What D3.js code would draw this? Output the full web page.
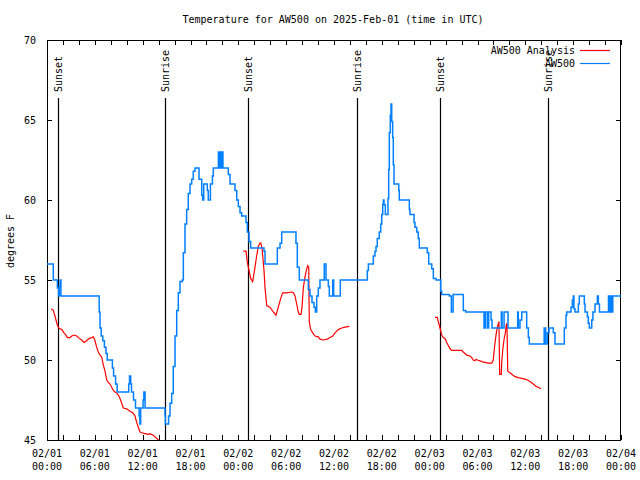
<!DOCTYPE html>
<html><head><meta charset="utf-8">
<script src="https://cdn.jsdelivr.net/npm/d3@7"></script>
<style>body{margin:0;background:#fff}svg{display:block}text{font-family:"DejaVu Sans Mono",monospace;font-size:10px;fill:#000}</style>
</head><body><svg id="c" width="640" height="480"></svg>
<script>
const title = "Temperature for AW500 on 2025-Feb-01 (time in UTC)";
const yLabel = "degrees F";
const yTicks = [45, 50, 55, 60, 65, 70];
const xLabelHours = [0, 6, 12, 18, 24, 30, 36, 42, 48, 54, 60, 66, 72];
const xLabelDates = ["02/01","02/01","02/01","02/01","02/02","02/02","02/02","02/02","02/03","02/03","02/03","02/03","02/04"];
const xLabelTimes = ["00:00","06:00","12:00","18:00","00:00","06:00","12:00","18:00","00:00","06:00","12:00","18:00","00:00"];
const sunHours = [1.42, 14.8, 25.21, 38.89, 49.3, 62.85];
const sunLabels = ["Sunset","Sunrise","Sunset","Sunrise","Sunset","Sunrise"];
const seriesNames = ["AW500 Analysis", "AW500"];

// AW500 observations (hours since 02/01 00:00 UTC, deg F)
const blueHours = [0,0.79,1.3,1.45,1.55,1.65,1.75,6.55,6.65,6.8,7.0,7.2,7.4,7.55,8.2,8.35,8.6,8.8,10.25,10.35,10.5,10.6,10.85,11.1,11.55,11.65,11.75,12.05,12.15,12.3,14.8,14.85,15.05,15.25,15.43,15.64,15.84,16.06,16.27,16.47,16.68,16.97,17.1,17.31,17.52,17.72,17.94,18.15,18.35,18.56,19.07,19.19,19.41,19.53,19.66,20.03,20.11,20.23,20.5,20.75,20.86,21.5,21.58,21.74,21.82,21.99,22.07,22.33,22.74,22.96,23.17,23.58,23.8,24.0,24.21,24.42,24.96,25.13,25.34,25.55,27.22,27.35,28.89,29.23,29.44,31.23,31.4,31.65,32.78,32.99,33.24,33.49,33.66,33.83,34.03,34.24,34.78,35.0,35.29,35.41,35.84,35.96,36.79,40.18,40.31,40.93,41.14,41.27,41.43,41.68,41.86,41.99,42.11,42.19,42.27,42.44,42.77,42.86,42.94,43.06,43.15,43.24,43.36,43.44,43.53,44.12,44.19,45.45,45.53,46.04,46.16,46.38,46.57,46.7,47.7,47.88,48.26,48.46,48.8,49.39,49.51,50.47,50.72,50.94,52.22,52.52,54.82,54.98,55.23,55.4,55.7,55.82,56.99,57.08,57.33,57.83,59.04,59.12,59.33,59.55,60.17,60.38,60.5,62.36,62.55,62.76,62.97,63.51,63.72,64.89,65.1,65.19,65.73,65.9,66.02,66.1,66.23,66.65,66.77,67.4,67.49,67.78,67.9,68.03,68.33,68.48,68.74,69.03,69.16,69.3,70.43,70.56,70.68,70.8,70.97,72];
const blueTemps = [56,55,54.5,54,54.6,55,54,53,52,51.5,51.2,50.8,50.4,50,49.5,49,48.5,48,48.5,49,48.5,48,47.5,47,46.5,46,47,47.5,48,47,46.5,46,46,46.5,47.3,47.9,49.6,51.5,53.1,54.2,54.9,55,56.7,58.5,59.4,60.4,61,61.3,61.8,62,61.3,61.3,60.3,60,61,61,60.6,60,61,61.5,62,63,62,63,62,63,62,62,61.6,61,61,60.6,60,59.6,59.2,59,58.6,58,57.4,57,56.8,56,57,57.3,58,57.3,55.8,55,54.4,54,53.6,53.3,53,54,54.5,55,56,55,54.6,54,55,54,55,55.6,56,56.5,56.8,57.1,57.6,58,58.5,59.1,59.7,60,59.7,59.1,60.1,61.9,64.2,65.3,66,64.9,63.9,62.2,61,60.6,60,59.4,59.1,58.6,58.3,58,57.6,57,56.7,56,55.7,55.1,55,54.3,54.1,54,53,54.1,53.1,53,52,53,52,53,52.5,52,53,52,53,52,53,52,52.5,53,52,51.4,51,52,51,51.7,52,51.7,51,52,52.8,53,53.3,53.75,54,53.2,53,53.5,54,53.5,53,52.7,52.3,52,52.5,53,53.5,54,53.5,53,54,53,54,53,54,54];

// AW500 Analysis (null = gap)
const redHours = [0.54,0.79,0.97,1.13,1.29,1.47,1.88,2.13,2.38,2.55,2.89,3.1,3.39,3.73,4.05,4.35,4.64,4.98,5.31,5.61,5.81,6.02,6.23,6.43,6.65,6.86,7.06,7.28,7.49,7.69,7.9,8.12,8.32,8.53,8.82,9.07,9.37,9.57,10.0,10.41,10.75,11.04,11.25,11.45,11.67,11.88,12.29,12.71,12.92,13.33,13.76,13.96,14.17,
 19,
 24.62,24.96,25.13,25.34,25.55,25.8,26.09,26.3,26.5,26.72,26.84,26.97,27.06,27.22,27.35,27.56,27.97,28.39,28.73,29.01,29.32,29.57,30.07,30.69,30.9,31.11,31.32,31.52,31.65,31.86,31.99,32.15,32.36,32.58,32.7,32.83,32.9,33.08,33.33,33.62,34.03,34.24,34.66,35.16,35.5,35.84,36.13,36.54,36.97,37.38,37.92,
 43,
 48.67,48.96,49.08,49.3,49.51,49.71,49.92,50.14,50.34,50.55,50.76,52.02,52.22,52.65,53.06,53.27,53.47,53.68,53.81,53.98,54.32,54.53,54.94,55.36,55.78,55.98,56.11,56.28,56.4,56.57,56.69,56.78,56.98,57.03,57.16,57.32,57.49,57.61,57.7,57.79,58.08,58.42,58.71,59.12,59.55,59.96,60.25,60.59,61.0,61.34,61.63,61.97];
const redTemps = [53.2,53.1,52.8,52.5,52.2,52.0,51.9,51.7,51.55,51.4,51.4,51.5,51.56,51.5,51.35,51.25,51.1,51.2,51.35,51.4,51.45,51.2,50.8,50.5,50.3,50.2,49.7,49.3,48.75,48.6,48.5,48.3,48.1,48.0,47.9,47.7,47.3,47.0,46.95,46.8,46.7,46.5,46.1,45.8,45.5,45.45,45.4,45.35,45.4,45.3,45.1,45.0,44.9,
 null,
 56.8,56.8,56.1,55.6,55.1,54.9,55.8,56.5,57.1,57.3,57.3,57.0,56.5,55.6,54.5,53.4,53.3,53.0,52.8,53.3,53.85,54.2,54.2,54.25,54.2,54.0,53.5,53.0,52.85,52.85,53.3,54.5,55.2,55.7,55.9,55.8,52.4,51.9,51.7,51.5,51.45,51.3,51.25,51.3,51.4,51.5,51.7,51.9,52.0,52.05,52.1,
 null,
 52.67,52.67,52.4,52.0,51.56,51.4,51.35,51.1,50.9,50.7,50.6,50.6,50.5,50.3,50.25,50.15,50.0,49.95,50.05,50.0,49.95,49.9,49.85,49.8,49.8,50.0,50.7,51.4,51.8,52.2,52.4,49.1,49.1,49.8,50.6,51.25,51.7,52.2,52.3,49.3,49.2,49.06,48.96,48.9,48.85,48.8,48.75,48.65,48.5,48.35,48.3,48.2];

const svg = d3.select("#c");
const L = 47, R = 621, T = 40, B = 440;
const x = d3.scaleLinear().domain([0, 72]).range([L, R]);
const y = d3.scaleLinear().domain([45, 70]).range([B, T]);

svg.append("defs").append("clipPath").attr("id","clip").append("rect")
  .attr("x", L).attr("y", T).attr("width", R - L).attr("height", B - T);

// title
svg.append("text").attr("x", 333).attr("y", 23).attr("text-anchor","middle").text(title);
// y label
svg.append("text").attr("transform","translate(14,241) rotate(-90)").attr("text-anchor","middle").text(yLabel);

// axes (ticks every 2 h, labels every 6 h)
const minor = d3.range(0, 73, 2);
const gb = svg.append("g").attr("transform",`translate(0,${B})`)
  .call(d3.axisBottom(x).tickValues(minor).tickSize(-5).tickFormat(""));
const gt = svg.append("g").attr("transform",`translate(0,${T})`)
  .call(d3.axisTop(x).tickValues(minor).tickSize(-5).tickFormat(""));
const gl = svg.append("g").attr("transform",`translate(${L},0)`)
  .call(d3.axisLeft(y).tickValues(yTicks).tickSize(-5).tickPadding(11));
const gr = svg.append("g").attr("transform",`translate(${R},0)`)
  .call(d3.axisRight(y).tickValues(yTicks).tickSize(-5).tickFormat(""));
[gb, gt, gl, gr].forEach(g => {
  g.select(".domain").remove();
  g.selectAll("line").attr("stroke","#000").attr("stroke-width",1).attr("shape-rendering","crispEdges");
  g.selectAll("text").attr("font-family",'"DejaVu Sans Mono",monospace').attr("font-size",10).attr("fill","#000");
});
gl.selectAll("text").attr("dy","0.35em");

const xl = svg.append("g");
xLabelHours.forEach((h, i) => {
  xl.append("text").attr("x", x(h)).attr("y", 457).attr("text-anchor","middle").text(xLabelDates[i]);
  xl.append("text").attr("x", x(h)).attr("y", 470).attr("text-anchor","middle").text(xLabelTimes[i]);
});

// frame
svg.append("rect").attr("x", L + 0.5).attr("y", T + 0.5).attr("width", R - L - 1).attr("height", B - T)
  .attr("fill","none").attr("stroke","#000").attr("stroke-width",1).attr("shape-rendering","crispEdges");

// sunrise / sunset lines
const sg = svg.append("g");
sunHours.forEach((h, i) => {
  const xx = Math.round(x(h)) + 0.5;
  sg.append("line").attr("x1", xx).attr("x2", xx).attr("y1", 98).attr("y2", B)
    .attr("stroke","#000").attr("stroke-width",1.2);
  sg.append("text").attr("transform",`translate(${xx + 3.5},92) rotate(-90)`)
    .attr("text-anchor","start").text(sunLabels[i]);
});

// series
const plot = svg.append("g").attr("clip-path","url(#clip)");
const red = redHours.map((h, i) => [h, redTemps[i]]);
const blue = blueHours.map((h, i) => [h, blueTemps[i]]);
plot.append("path").datum(red)
  .attr("d", d3.line().defined(d => d[1] != null).x(d => x(d[0])).y(d => y(d[1])))
  .attr("fill","none").attr("stroke","#ff0000").attr("stroke-width",1.2);
plot.append("path").datum(blue)
  .attr("d", d3.line().curve(d3.curveStepAfter).x(d => x(d[0])).y(d => y(d[1])))
  .attr("fill","none").attr("stroke","#0080ff").attr("stroke-width",1.5);

// legend
const lg = svg.append("g");
const legColors = ["#ff0000", "#0080ff"];
seriesNames.forEach((n, i) => {
  const yy = 50 + i * 13;
  lg.append("text").attr("x", 575).attr("y", yy).attr("dy","0.35em").attr("text-anchor","end").text(n);
  lg.append("line").attr("x1", 580).attr("x2", 610).attr("y1", yy + 0.5).attr("y2", yy + 0.5)
    .attr("stroke", legColors[i]).attr("stroke-width",1.2);
});
</script></body></html>
